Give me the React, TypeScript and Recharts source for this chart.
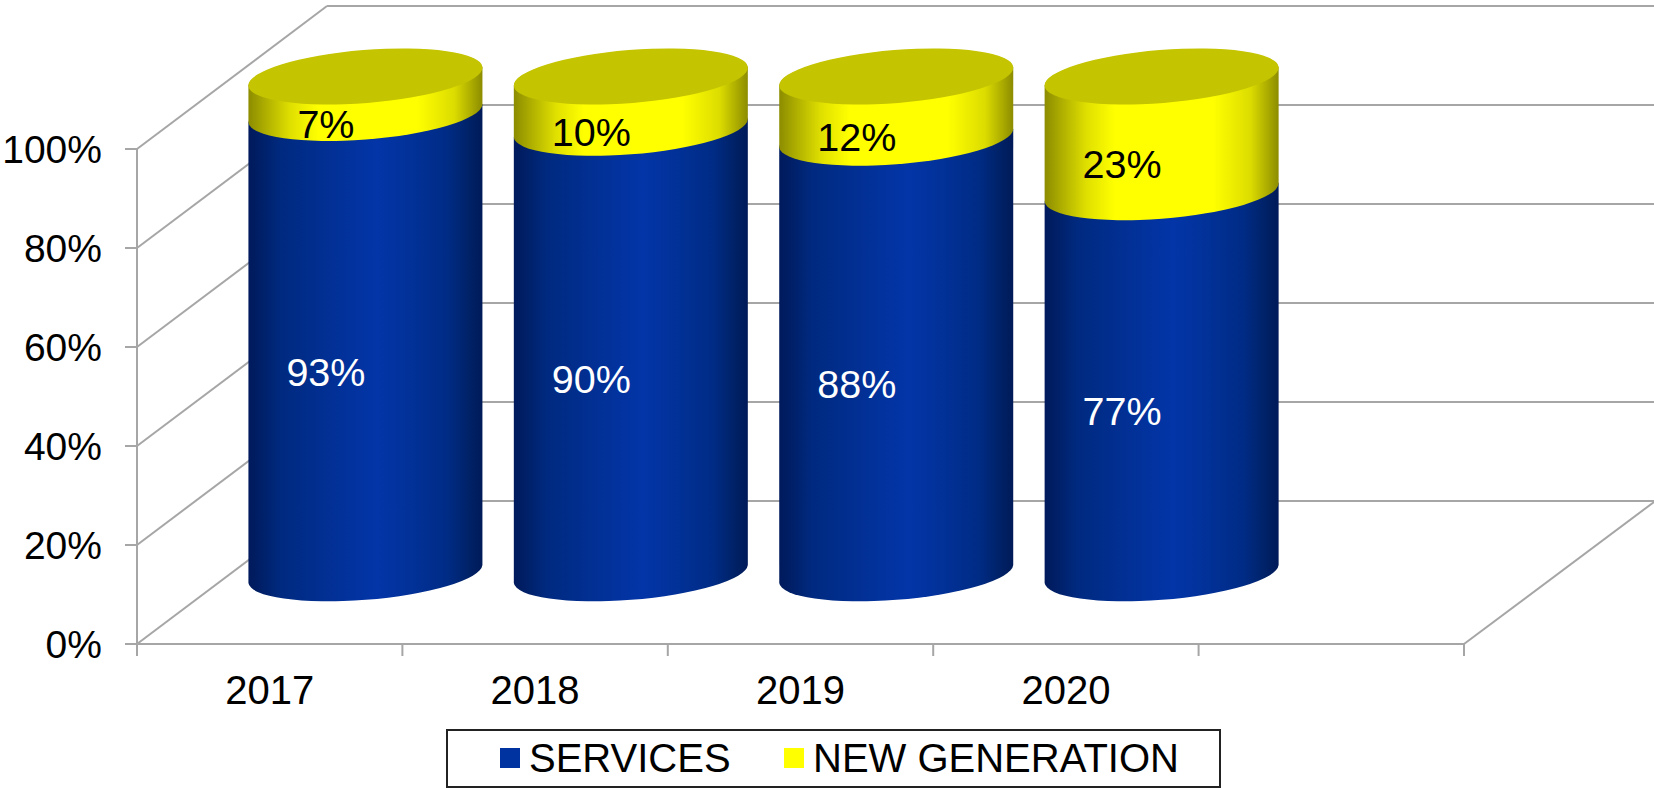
import { BarChart, Bar, XAxis, YAxis, Legend, LabelList } from "recharts";

const years = ["2017", "2018", "2019", "2020", ""];
const services = [93, 90, 88, 77, null];
const newGeneration = [7, 10, 12, 23, null];
const yTicks = [0, 20, 40, 60, 80, 100];

const chartData = years.map((year, i) => ({
    year,
    services: services[i],
    newGeneration: newGeneration[i],
}));

const FONT = "'Liberation Sans', Arial, sans-serif";
const GRID = "#a6a6a6";
const GRID_W = 2;
const DEPTH_X = 190;
const DEPTH_Y = 143;

// cylinders sit half way into the floor
const CYL_DX = 95.5;
const CYL_DY = 70;
const RX = 117.4;
const RY = 26.5;
const TILT = -4.6;
const RISE = 9;

const Cylinder = ({ x, y, width, height, gradient, top }: any) => {
    if (!height || height <= 0) return null;
    const left = x + CYL_DX;
    const right = left + width;
    const yTop = y - CYL_DY - (top ? 2.5 : 0);
    const yBottom = y + height - CYL_DY;
    const arc = `A ${RX} ${RY} ${TILT} 0 0`;
    const body = [
        `M ${left} ${yTop + RISE}`,
        `L ${left} ${yBottom + RISE}`,
        `${arc} ${right} ${yBottom - RISE}`,
        `L ${right} ${yTop - RISE}`,
        `${arc} ${left} ${yTop + RISE}`,
        "Z",
    ].join(" ");
    return (
        <g>
            <path d={body} fill={`url(#${gradient})`} />
            {top && (
                <ellipse
                    cx={left + width / 2}
                    cy={yTop}
                    rx={RX}
                    ry={RY}
                    fill="#c4c400"
                    transform={`rotate(${TILT} ${left + width / 2} ${yTop})`}
                />
            )}
        </g>
    );
};

const YTick = ({ x, y, payload }: any) => {
    return (
        <g>
            <line x1={x - 12} x2={x} y1={y} y2={y} stroke={GRID} strokeWidth={GRID_W} />
            <line x1={x} x2={x + DEPTH_X} y1={y} y2={y - DEPTH_Y} stroke={GRID} strokeWidth={GRID_W} />
            <line x1={x + DEPTH_X} x2={1654} y1={y - DEPTH_Y} y2={y - DEPTH_Y} stroke={GRID} strokeWidth={GRID_W} />
            <text x={x - 35} y={y} textAnchor="end" dominantBaseline="central" fontFamily={FONT} fontSize={39} fill="#000">
                {payload.value}%
            </text>
        </g>
    );
};

const XTick = ({ x, y, payload, width, index }: any) => {
    const band = width / years.length;
    const lineAt = x - band / 2;
    return (
        <g>
            <line x1={lineAt} x2={lineAt} y1={y} y2={y + 12} stroke={GRID} strokeWidth={GRID_W} />
            {index === years.length - 1 && (
                <>
                    <line x1={x + band / 2} x2={x + band / 2} y1={y} y2={y + 12} stroke={GRID} strokeWidth={GRID_W} />
                    <line x1={x + band / 2} x2={x + band / 2 + DEPTH_X} y1={y} y2={y - DEPTH_Y + 1} stroke={GRID} strokeWidth={GRID_W} />
                </>
            )}
            <text x={x} y={y + 46} textAnchor="middle" dominantBaseline="central" fontFamily={FONT} fontSize={40} fill="#000">
                {payload.value}
            </text>
        </g>
    );
};

const BarLabel = ({ x, y, width, height, value, color }: any) => {
    if (value === null || value === undefined) return null;
    return (
        <text
            x={x + width / 2 + 56}
            y={y + height / 2 - 42}
            textAnchor="middle"
            dominantBaseline="central"
            fontFamily={FONT}
            fontSize={39.5}
            fill={color}
        >
            {value}%
        </text>
    );
};

const LegendBox = ({ payload }: any) => (
    <div style={{ position: "relative", width: "100%", height: "100%", fontFamily: FONT, fontSize: 40, color: "#000" }}>
        {(payload || []).map((item: any, i: number) => (
            <div key={item.value} style={{ position: "absolute", left: i === 0 ? 52 : 336, top: 0, height: 54, display: "flex", alignItems: "center", whiteSpace: "nowrap" }}>
                <span style={{ display: "inline-block", width: 20, height: 20, background: item.color, marginRight: 9 }} />
                <span>{item.value}</span>
            </div>
        ))}
    </div>
);

export default function App() {
    return (
        <div style={{ position: "absolute", left: 0, top: 0, width: 1654, height: 788, background: "#fff" }}>
            {/* walls and axes live in their own chart so the cylinders cover them */}
            <div style={{ position: "absolute", left: 0, top: 0 }}>
                <BarChart
                    width={1654}
                    height={788}
                    data={chartData}
                    margin={{ top: 149, right: 190, bottom: 0, left: 0 }}
                >
                    <XAxis
                        dataKey="year"
                        height={144}
                        interval={0}
                        axisLine={{ stroke: GRID, strokeWidth: GRID_W }}
                        tickLine={false}
                        tickSize={0}
                        tickMargin={0}
                        tick={<XTick />}
                    />
                    <YAxis
                        width={137}
                        domain={[0, 100]}
                        ticks={yTicks}
                        axisLine={{ stroke: GRID, strokeWidth: GRID_W }}
                        tickLine={false}
                        tickMargin={0}
                        tickSize={0}
                        tick={<YTick />}
                    />
                    <Bar dataKey="services" isAnimationActive={false} shape={() => null} />
                </BarChart>
            </div>
            <div style={{ position: "absolute", left: 0, top: 0 }}>
                <BarChart
                    width={1654}
                    height={788}
                    data={chartData}
                    barCategoryGap="6%"
                    margin={{ top: 149, right: 190, bottom: 144, left: 137 }}
                >
                    <defs>
                        <linearGradient id="blueBody" x1="0" y1="0" x2="1" y2="0">
                            <stop offset="0%" stopColor="#001a5c" />
                            <stop offset="6%" stopColor="#002069" />
                            <stop offset="14%" stopColor="#002a80" />
                            <stop offset="55%" stopColor="#0335a8" />
                            <stop offset="85%" stopColor="#002c86" />
                            <stop offset="94%" stopColor="#002268" />
                            <stop offset="100%" stopColor="#001a58" />
                        </linearGradient>
                        <linearGradient id="yellowBody" x1="0" y1="0" x2="1" y2="0">
                            <stop offset="0%" stopColor="#8c8c00" />
                            <stop offset="18%" stopColor="#e0e000" />
                            <stop offset="30%" stopColor="#ffff00" />
                            <stop offset="72%" stopColor="#ffff00" />
                            <stop offset="88%" stopColor="#dcdc00" />
                            <stop offset="100%" stopColor="#8c8c00" />
                        </linearGradient>
                    </defs>
                    <XAxis dataKey="year" hide />
                    <YAxis domain={[0, 100]} hide />
                    <Legend
                        layout="horizontal"
                        align="center"
                        verticalAlign="middle"
                        itemSorter={null}
                        content={<LegendBox />}
                        wrapperStyle={{
                            position: "absolute",
                            left: 446,
                            top: 729,
                            width: 775,
                            height: 59,
                            boxSizing: "border-box",
                            border: "2px solid #222",
                            background: "#fff",
                        }}
                    />
                    <Bar
                        dataKey="services"
                        name="SERVICES"
                        stackId="a"
                        fill="#0033a0"
                        isAnimationActive={false}
                        shape={(props: any) => <Cylinder {...props} gradient="blueBody" />}
                    >
                        <LabelList dataKey="services" content={<BarLabel color="#fff" />} />
                    </Bar>
                    <Bar
                        dataKey="newGeneration"
                        name="NEW GENERATION"
                        stackId="a"
                        fill="#ffff00"
                        isAnimationActive={false}
                        shape={(props: any) => <Cylinder {...props} gradient="yellowBody" top />}
                    >
                        <LabelList dataKey="newGeneration" content={<BarLabel color="#000" />} />
                    </Bar>
                </BarChart>
            </div>
        </div>
    );
}
